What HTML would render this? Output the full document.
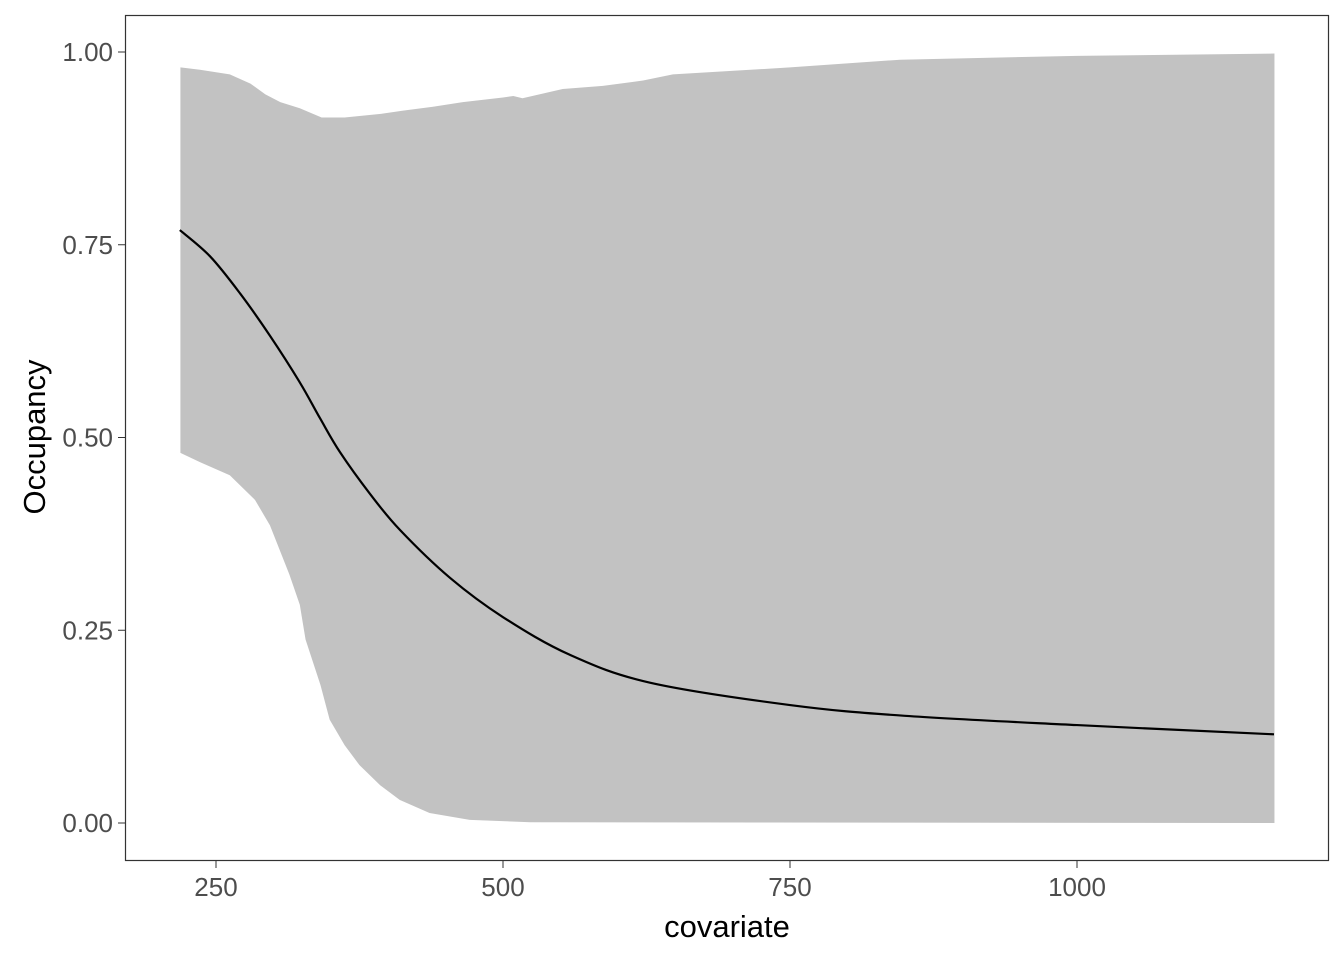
<!DOCTYPE html>
<html><head><meta charset="utf-8"><style>
body{margin:0;background:#fff}
svg{display:block;font-family:"Liberation Sans",Arial,sans-serif}
</style></head><body>
<svg id="chart" width="1344" height="960">
<rect width="1344" height="960" fill="#fff"/>
<g id="plot"></g>
<rect x="125.5" y="15.5" width="1203" height="845" fill="none" stroke="#333" stroke-width="1.2"/>
<g id="axes"></g>
<text x="727" y="937" font-size="31" text-anchor="middle" fill="#000">covariate</text>
<text transform="translate(45,437) rotate(-90)" font-size="31" text-anchor="middle" fill="#000">Occupancy</text>
</svg>
<script>
const meanX=[218.5,244.8,270.9,297,323.2,340.6,358,384.1,410.3,453.8,500,558.4,628,750,850,1000,1171.6];
const meanY=[0.769,0.735,0.687,0.632,0.571,0.525,0.481,0.427,0.380,0.318,0.267,0.218,0.182,0.153,0.139,0.127,0.115];
const lowX=[219,236,262,284,297,314,323,328,341,349,362,375,393,410,436,471,524,1172];
const lowY=[0.48,0.468,0.451,0.419,0.386,0.322,0.283,0.238,0.179,0.134,0.101,0.075,0.049,0.030,0.013,0.004,0.001,0];
const upX=[219,236,262,280,293,306,323,342,362,395,413,439,465,500,509,517,552,587,622,648,750,846,1000,1172];
const upY=[0.98,0.977,0.971,0.959,0.945,0.935,0.927,0.915,0.915,0.92,0.924,0.929,0.935,0.941,0.943,0.940,0.952,0.956,0.963,0.971,0.98,0.99,0.995,0.998];
const xTicks=[250,500,750,1000];
const yTicks=[0,0.25,0.5,0.75,1];
const yTickLabels=["0.00","0.25","0.50","0.75","1.00"];
const xs=v=>216+(v-250)*1.148;
const ys=v=>823-v*771;
const NS="http://www.w3.org/2000/svg";
const plot=document.getElementById('plot'),axes=document.getElementById('axes');
function smooth(X,Y){
 const P=X.map((v,i)=>[xs(v),ys(Y[i])]);
 let d="M"+P[0][0]+","+P[0][1];
 for(let i=0;i<P.length-1;i++){
  const p0=P[Math.max(0,i-1)],p1=P[i],p2=P[i+1],p3=P[Math.min(P.length-1,i+2)];
  const c1=[p1[0]+(p2[0]-p0[0])/6,p1[1]+(p2[1]-p0[1])/6];
  const c2=[p2[0]-(p3[0]-p1[0])/6,p2[1]-(p3[1]-p1[1])/6];
  d+="C"+c1+" "+c2+" "+p2;
 }
 return d;
}
let d="M"+upX.map((v,i)=>xs(v)+","+ys(upY[i])).join("L");
for(let i=lowX.length-1;i>=0;i--)d+="L"+xs(lowX[i])+","+ys(lowY[i]);
const band=document.createElementNS(NS,'path');
band.setAttribute('d',d+"Z");band.setAttribute('fill','#c2c2c2');


plot.appendChild(band);
const line=document.createElementNS(NS,'path');
line.setAttribute('d',smooth(meanX,meanY));
line.setAttribute('fill','none');line.setAttribute('stroke','#000');line.setAttribute('stroke-width','2.2');


plot.appendChild(line);
xTicks.forEach(v=>{
 const t=document.createElementNS(NS,'line');
 t.setAttribute('x1',xs(v));t.setAttribute('x2',xs(v));t.setAttribute('y1',861);t.setAttribute('y2',868);t.setAttribute('stroke','#333');
 
 
 axes.appendChild(t);
 const l=document.createElementNS(NS,'text');
 l.setAttribute('x',xs(v));l.setAttribute('y',896);l.setAttribute('font-size','26');l.setAttribute('fill','#4d4d4d');l.setAttribute('text-anchor','middle');
 l.textContent=v;
 
 
 axes.appendChild(l);
});
yTicks.forEach((v,i)=>{
 const t=document.createElementNS(NS,'line');
 t.setAttribute('x1',118);t.setAttribute('x2',125);t.setAttribute('y1',ys(v));t.setAttribute('y2',ys(v));t.setAttribute('stroke','#333');
 
 
 axes.appendChild(t);
 const l=document.createElementNS(NS,'text');
 l.setAttribute('x',113);l.setAttribute('y',ys(v)+9);l.setAttribute('font-size','26');l.setAttribute('fill','#4d4d4d');l.setAttribute('text-anchor','end');
 l.textContent=yTickLabels[i];
 
 
 axes.appendChild(l);
});
</script>
</body></html>
